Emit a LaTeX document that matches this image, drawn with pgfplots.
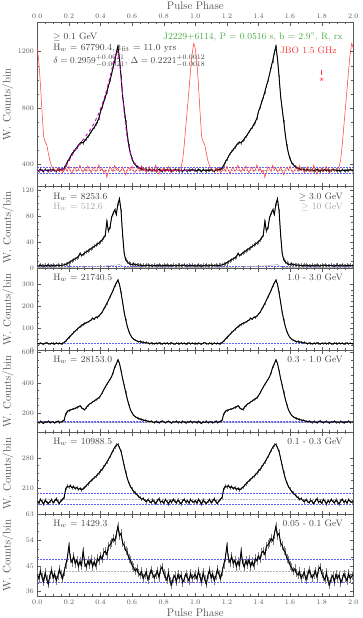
\documentclass[border=0pt]{standalone}
\usepackage{pgfplots}
\usepackage{pgfplotstable}
\pgfplotsset{compat=1.18}

\definecolor{fgreen}{RGB}{70,170,70}
\definecolor{fred}{RGB}{255,50,50}
\definecolor{fmag}{RGB}{200,0,200}
\definecolor{fblue}{RGB}{95,95,255}

% one rotation of each profile, phase 0..1 (second rotation is the same data shifted by 1)
% a: >0.1 GeV, fit: two-peak model, r: JBO radio, b: >3 GeV, g: >10 GeV,
% c: 1-3 GeV, d: 0.3-1 GeV, e: 0.1-0.3 GeV, f: 0.05-0.1 GeV
\pgfplotstableread{
ph a fit r b g c d e f
0.00 361 358 1224 3.5 0.4 32 143 180 42.0
0.01 353 358 1125 2.8 0.2 30 138 174 40.5
0.02 366 358 965 4.4 0.6 34 146 183 43.2
0.03 358 358 770 3.2 0.3 31 140 177 41.0
0.04 351 358 600 2.5 0.1 29 135 172 39.5
0.05 364 358 560 3.9 0.5 33 144 181 42.6
0.06 357 358 540 3.0 0.3 35 141 176 40.2
0.07 354 358 478 4.6 0.2 31 147 173 38.6
0.08 362 358 425 2.7 0.6 30 139 178 41.8
0.09 356 358 392 3.4 0.4 33 142 182 43.5
0.10 365 358 370 4.1 0.3 32 145 175 40.8
0.11 359 358 362 2.9 0.5 29 137 179 42.2
0.12 352 358 354 3.6 0.2 34 143 184 39.8
0.13 363 358 376 4.3 0.4 31 148 177 41.5
0.14 360 358 350 3.1 0.6 33 140 173 43.8
0.15 367 361 364 3.8 0.3 30 144 180 42.0
0.16 364 366 342 4.0 0.5 32 146 183 40.6
0.17 375 375 360 4.6 0.4 36 156 188 43.0
0.18 395 388 374 5.5 0.6 43 196 208 45.5
0.19 418 405 352 6.5 0.8 51 212 214 47.8
0.20 436 424 388 8.0 0.7 59 218 212 52.0
0.21 456 444 357 9.5 0.9 66 222 215 47.5
0.22 478 464 334 11.0 1.0 74 226 210 46.2
0.23 490 483 368 12.5 0.8 81 228 213 48.4
0.24 506 500 380 14.0 1.1 88 232 208 45.8
0.25 520 516 352 15.5 1.2 95 238 211 47.0
0.26 536 531 364 17.0 1.0 102 244 206 44.8
0.27 551 546 396 22.0 1.3 108 249 209 46.6
0.28 558 561 358 19.0 1.4 113 238 205 45.2
0.29 553 576 347 20.5 1.2 118 228 208 50.2
0.30 568 591 372 23.0 1.5 122 224 211 46.0
0.31 582 606 354 24.5 1.6 126 238 215 44.6
0.32 597 622 390 26.0 1.4 129 250 219 46.8
0.33 612 638 362 28.0 1.7 133 260 223 45.4
0.34 632 656 340 29.5 1.8 138 266 227 47.2
0.35 648 674 367 31.0 1.6 146 274 230 44.8
0.36 662 694 382 33.0 1.9 141 281 234 46.5
0.37 684 716 350 34.5 2.0 151 289 237 45.0
0.38 702 740 364 36.5 1.8 149 296 241 47.6
0.39 728 766 398 38.0 2.2 157 302 245 46.8
0.40 776 794 356 40.0 2.3 164 316 250 48.5
0.41 806 825 372 43.0 2.5 173 333 254 47.4
0.42 842 858 344 46.0 2.4 186 353 259 49.6
0.43 876 894 361 50.0 2.8 199 372 265 50.2
0.44 914 933 308 71.0 3.0 213 390 271 49.0
0.45 956 975 352 57.0 3.3 227 406 277 51.8
0.46 995 1020 384 62.0 3.1 243 423 284 52.4
0.47 1040 1067 368 77.0 3.6 257 440 291 53.2
0.48 1092 1114 350 84.0 4.0 273 468 299 54.6
0.49 1135 1158 394 89.0 4.4 291 503 306 53.8
0.50 1192 1192 362 82.0 4.2 306 524 311 56.0
0.51 1238 1202 374 98.0 5.0 318 550 313 58.8
0.52 1152 1140 348 106.0 5.4 300 528 305 55.6
0.53 1025 1022 357 88.0 3.6 262 480 296 56.4
0.54 885 890 382 51.0 1.8 218 428 280 53.0
0.55 792 770 352 22.0 1.0 172 382 262 52.2
0.56 704 668 326 12.0 0.7 138 336 246 50.4
0.57 608 585 366 9.0 0.5 108 292 232 49.8
0.58 530 522 378 7.0 0.6 85 254 221 47.6
0.59 478 475 360 5.5 0.4 69 222 213 47.0
0.60 438 440 390 5.0 0.5 58 202 207 45.2
0.61 414 416 352 6.5 0.3 51 186 202 44.4
0.62 398 400 344 4.2 0.6 46 178 198 43.2
0.63 386 389 364 5.0 0.4 43 171 194 44.0
0.64 379 381 376 3.8 0.2 39 166 190 42.5
0.65 373 375 350 4.5 0.5 41 162 187 41.8
0.66 369 370 392 3.2 0.3 37 159 183 43.0
0.67 364 367 358 4.0 0.6 39 156 185 40.6
0.68 367 364 367 2.9 0.4 34 154 180 41.8
0.69 362 362 342 3.7 0.2 36 151 177 42.8
0.70 359 361 360 4.3 0.5 33 148 182 40.2
0.71 365 360 384 3.0 0.3 31 145 178 41.4
0.72 356 359 353 3.6 0.4 34 149 175 43.6
0.73 361 359 365 2.6 0.6 32 143 181 42.2
0.74 363 358 348 4.1 0.3 30 140 177 40.8
0.75 354 358 396 3.4 0.5 33 146 173 42.0
0.76 360 358 357 3.0 0.2 31 142 180 43.2
0.77 365 358 330 4.5 0.4 35 138 184 41.0
0.78 357 358 370 3.2 0.6 32 145 176 43.8
0.79 352 358 359 2.8 0.3 29 150 179 44.6
0.80 362 358 374 3.9 0.5 33 143 174 42.4
0.81 358 358 348 3.3 0.4 31 139 182 41.2
0.82 364 358 362 4.4 0.2 34 144 178 40.0
0.83 356 358 386 2.9 0.5 30 147 172 42.6
0.84 361 358 354 3.6 0.3 32 141 180 39.6
0.85 353 358 340 3.1 0.6 35 136 176 38.4
0.86 359 358 368 4.0 0.4 31 145 183 40.8
0.87 366 358 360 3.4 0.2 29 142 178 41.6
0.88 357 358 357 2.7 0.5 33 148 174 39.4
0.89 362 358 364 3.8 0.3 32 140 181 42.0
0.90 355 358 368 4.2 0.4 30 144 177 40.6
0.91 360 358 384 3.0 0.6 34 139 172 41.8
0.92 352 358 430 3.5 0.3 31 146 179 39.2
0.93 363 358 540 4.6 0.5 33 143 183 40.4
0.94 358 358 670 3.2 0.2 29 137 176 42.2
0.95 354 358 800 2.8 0.4 32 145 180 41.0
0.96 362 358 930 3.9 0.6 34 141 174 39.8
0.97 357 358 1065 3.3 0.3 30 148 182 42.4
0.98 365 358 1185 4.1 0.5 33 140 178 40.6
0.99 359 358 1259 3.0 0.4 31 144 176 41.4
1.00 361 358 1224 3.5 0.4 32 143 180 42.0
}\prof

\tikzset{ann/.style={inner sep=0pt, font=\fontsize{9.3}{11}\selectfont, text=black!75}}

\pgfplotsset{
  panel/.style={
    scale only axis, width=316pt, height=82pt, anchor=south west,
    xmin=0, xmax=2,
    xtick={0,0.2,0.4,0.6,0.8,1.0,1.2,1.4,1.6,1.8,2.0},
    minor x tick num=3, minor y tick num=3,
    xticklabels={},
    tick align=inside,
    major tick length=3.5pt, minor tick length=2pt,
    axis line style={black!65, line width=0.5pt},
    tick style={black!65, line width=0.4pt},
    tick label style={font=\fontsize{7}{8}\selectfont, text=black!65},
    yticklabel style={/pgf/number format/.cd, fixed, 1000 sep={}},
    ylabel={W. Counts/bin},
    every axis y label/.style={at={(rel axis cs:0,0.5)}, xshift=-29.3pt, rotate=90,
      anchor=center, font=\fontsize{11}{12}\selectfont, text=black!70},
    every axis x label/.append style={font=\fontsize{11}{12}\selectfont, text=black!70,
      inner sep=0.5pt},
  },
  phaselabels/.style={xticklabels={0.0,0.2,0.4,0.6,0.8,1.0,1.2,1.4,1.6,1.8,2.0}},
  errs/.style={black!50, line width=0.55pt, forget plot,
    error bars/.cd, y dir=both, y fixed=#1, error mark=none},
  prof/.style={black, line width=0.95pt},
  bline/.style={fblue, dash pattern=on 2pt off 1pt, line width=0.5pt},
  gline/.style={black!30, densely dotted, line width=0.5pt},
}

\begin{document}
\begin{tikzpicture}
\useasboundingbox (0pt,0pt) rectangle (362pt,618pt);

% >= 0.1 GeV with radio
\begin{axis}[panel, at={(37.3pt,431.5pt)}, height=164pt,
  ymin=244, ymax=1407, ytick={400,800,1200},
  phaselabels, xticklabel pos=right, xlabel={Pulse Phase}]
\node[ann, anchor=west] at (rel axis cs:0.05,0.912) {$\geq$ 0.1 GeV};
\node[ann, anchor=west] at (rel axis cs:0.05,0.845) {H$_w$ = 67790.4, t$_{\rm fit}$ = 11.0 yrs};
\node[ann, anchor=west] at (rel axis cs:0.05,0.765) {$\delta = 0.2959^{+0.0021}_{-0.0021}$, $\Delta = 0.2221^{+0.0012}_{-0.0018}$};
\node[ann, anchor=east, text=fgreen] at (rel axis cs:0.967,0.912) {J2229+6114, P = 0.0516 s, b = 2.9$^{\circ}$, R, rx};
\node[ann, anchor=east, text=fred] at (rel axis cs:0.948,0.832) {JBO 1.5 GHz};
\addplot[bline] coordinates {(0,377) (2,377)};
\addplot[bline] coordinates {(0,338) (2,338)};
\addplot[gline] coordinates {(0,358) (2,358)};
\addplot[errs=12] table[x=ph, y=a] {\prof};
\addplot[errs=12] table[x expr=\thisrow{ph}+1, y=a] {\prof};
\addplot[prof] table[x=ph, y=a] {\prof};
\addplot[prof] table[x expr=\thisrow{ph}+1, y=a] {\prof};
\addplot[fmag, dashed, line width=0.9pt] table[x=ph, y=fit] {\prof};
\addplot[fred, line width=0.5pt] table[x=ph, y=r] {\prof};
\addplot[fred, line width=0.5pt] table[x expr=\thisrow{ph}+1, y=r] {\prof};
\addplot[fred, line width=0.8pt] coordinates {(1.8,1037) (1.8,1072)};
\addplot[fred, only marks, mark=star, mark size=2pt] coordinates {(1.8,1005)};
\end{axis}

% >= 3 GeV and >= 10 GeV
\begin{axis}[panel, at={(37.3pt,349.5pt)},
  ymin=-1, ymax=125, ytick={0,40,80,120}]
\node[ann, anchor=west] at (rel axis cs:0.05,0.872) {H$_w$ = 8253.6};
\node[ann, anchor=west, text=black!35] at (rel axis cs:0.05,0.75) {H$_w$ = 512.6};
\node[ann, anchor=east] at (rel axis cs:0.967,0.872) {$\geq$ 3.0 GeV};
\node[ann, anchor=east, text=black!35] at (rel axis cs:0.967,0.75) {$\geq$ 10 GeV};
\addplot[bline] coordinates {(0,3) (2,3)};
\addplot[errs=3] table[x=ph, y=b] {\prof};
\addplot[errs=3] table[x expr=\thisrow{ph}+1, y=b] {\prof};
\addplot[prof] table[x=ph, y=b] {\prof};
\addplot[prof] table[x expr=\thisrow{ph}+1, y=b] {\prof};
\addplot[black!35, line width=0.5pt] table[x=ph, y=g] {\prof};
\addplot[black!35, line width=0.5pt] table[x expr=\thisrow{ph}+1, y=g] {\prof};
\end{axis}

% 1.0 - 3.0 GeV
\begin{axis}[panel, at={(37.3pt,267.5pt)},
  ymin=0, ymax=371, ytick={0,100,200,300}]
\node[ann, anchor=west] at (rel axis cs:0.05,0.89) {H$_w$ = 21740.5};
\node[ann, anchor=east] at (rel axis cs:0.967,0.89) {1.0 - 3.0 GeV};
\addplot[bline] coordinates {(0,32) (2,32)};
\addplot[errs=5] table[x=ph, y=c] {\prof};
\addplot[errs=5] table[x expr=\thisrow{ph}+1, y=c] {\prof};
\addplot[prof] table[x=ph, y=c] {\prof};
\addplot[prof] table[x expr=\thisrow{ph}+1, y=c] {\prof};
\end{axis}

% 0.3 - 1.0 GeV
\begin{axis}[panel, at={(37.3pt,185.5pt)},
  ymin=74, ymax=612, ytick={200,400,600}]
\node[ann, anchor=west] at (rel axis cs:0.05,0.89) {H$_w$ = 28153.0};
\node[ann, anchor=east] at (rel axis cs:0.967,0.89) {0.3 - 1.0 GeV};
\addplot[bline] coordinates {(0,146) (2,146)};
\addplot[bline] coordinates {(0,138) (2,138)};
\addplot[gline] coordinates {(0,142) (2,142)};
\addplot[errs=7] table[x=ph, y=d] {\prof};
\addplot[errs=7] table[x expr=\thisrow{ph}+1, y=d] {\prof};
\addplot[prof] table[x=ph, y=d] {\prof};
\addplot[prof] table[x expr=\thisrow{ph}+1, y=d] {\prof};
\end{axis}

% 0.1 - 0.3 GeV
\begin{axis}[panel, at={(37.3pt,103.5pt)},
  ymin=147, ymax=341, ytick={210,280}]
\node[ann, anchor=west] at (rel axis cs:0.05,0.89) {H$_w$ = 10988.5};
\node[ann, anchor=east] at (rel axis cs:0.967,0.89) {0.1 - 0.3 GeV};
\addplot[bline] coordinates {(0,197) (2,197)};
\addplot[bline] coordinates {(0,171) (2,171)};
\addplot[gline] coordinates {(0,183) (2,183)};
\addplot[errs=4] table[x=ph, y=e] {\prof};
\addplot[errs=4] table[x expr=\thisrow{ph}+1, y=e] {\prof};
\addplot[prof] table[x=ph, y=e] {\prof};
\addplot[prof] table[x expr=\thisrow{ph}+1, y=e] {\prof};
\end{axis}

% 0.05 - 0.1 GeV
\begin{axis}[panel, at={(37.3pt,21.5pt)},
  ymin=34.3, ymax=63, ytick={36,45,54,63}, minor y tick num=2,
  phaselabels, xlabel={Pulse Phase}]
\node[ann, anchor=west] at (rel axis cs:0.05,0.89) {H$_w$ = 1429.3};
\node[ann, anchor=east] at (rel axis cs:0.967,0.89) {0.05 - 0.1 GeV};
\addplot[bline] coordinates {(0,47.3) (2,47.3)};
\addplot[bline] coordinates {(0,39.3) (2,39.3)};
\addplot[gline] coordinates {(0,43) (2,43)};
\addplot[errs=1.5] table[x=ph, y=f] {\prof};
\addplot[errs=1.5] table[x expr=\thisrow{ph}+1, y=f] {\prof};
\addplot[prof] table[x=ph, y=f] {\prof};
\addplot[prof] table[x expr=\thisrow{ph}+1, y=f] {\prof};
\end{axis}
\end{tikzpicture}
\end{document}
